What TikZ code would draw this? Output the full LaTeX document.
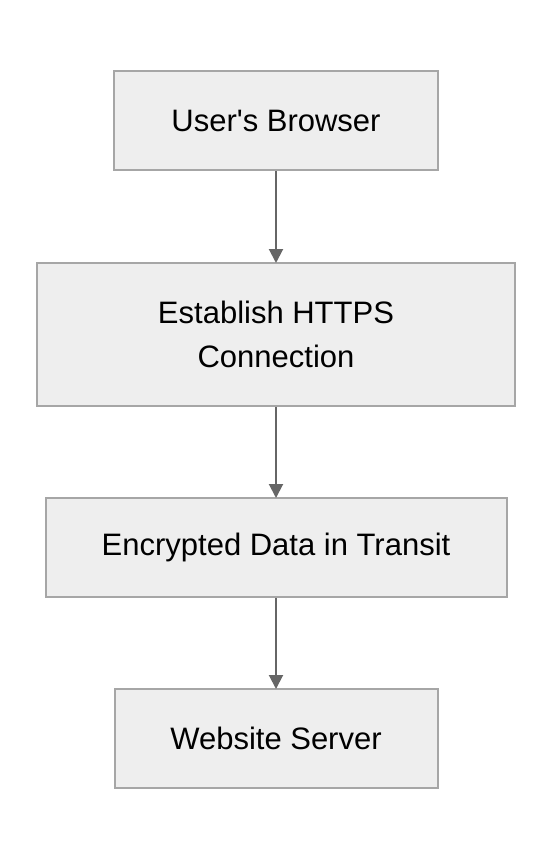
\documentclass[tikz,border=0pt]{standalone}
\usepackage{fontspec}
\setmainfont{Liberation Sans}
\usetikzlibrary{arrows.meta}
\definecolor{boxfill}{HTML}{EEEEEE}
\definecolor{boxline}{HTML}{A6A6A6}
\definecolor{arrowgray}{HTML}{666666}
\newcommand{\straightquote}{\XeTeXglyph\the\XeTeXcharglyph"0027\relax}
\tikzset{
  flowbox/.style={draw=boxline, fill=boxfill, line width=2pt, align=center,
    inner sep=0pt, font=\fontsize{31}{44}\selectfont},
  flowarrow/.style={draw=arrowgray, line width=2pt, shorten >=-1pt,
    -{Triangle[length=14pt,width=14pt]}}
}
\begin{document}
\begin{tikzpicture}[x=1pt,y=-1pt]
    \useasboundingbox (0,0) rectangle (552,860);
    \node[flowbox, minimum width=324pt, minimum height=99pt]  (browser) at (276,120.5) {User\straightquote s Browser};
    \node[flowbox, minimum width=478pt, minimum height=143pt] (https)   at (276,334.5) {Establish HTTPS\\Connection};
    \node[flowbox, minimum width=461pt, minimum height=99pt]  (transit) at (276,547.5) {Encrypted Data in Transit};
    \node[flowbox, minimum width=323pt, minimum height=99pt]  (server)  at (276,738.5) {Website Server};
    \draw[flowarrow] (browser) -- (https);
    \draw[flowarrow] (https) -- (transit);
    \draw[flowarrow] (transit) -- (server);
  \end{tikzpicture}
\end{document}
